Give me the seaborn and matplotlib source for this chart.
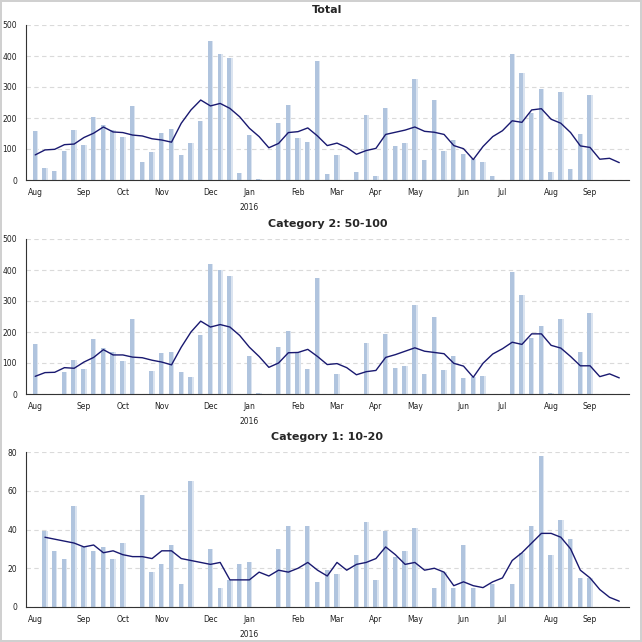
"""Weekly counts with rolling average, three panels"""
import matplotlib
matplotlib.use('Agg')
import matplotlib.pyplot as plt
from matplotlib.ticker import MultipleLocator
import numpy as np
import pandas as pd
import seaborn as sns

# weekly buckets, starting Sunday 2015-08-02
week_start = '2015-08-02'
n_weeks = 61

total_counts = [158, 39, 29, 95, 161, 113, 203, 177, 161, 139,
                239, 58, 89, 152, 165, 82, 118, 190, 448, 408,
                395, 22, 145, 3, 0, 183, 243, 137, 123, 384,
                19, 81, 0, 26, 210, 13, 232, 110, 119, 326,
                65, 258, 95, 129, 84, 67, 58, 12, 0, 405,
                345, 216, 295, 26, 285, 35, 150, 274, 0, 0, 0]
total_avg = [81, 97, 99, 114, 116, 137, 151, 171, 155, 153,
             145, 142, 133, 129, 122, 183, 226, 258, 239, 247,
             231, 204, 167, 140, 104, 118, 153, 156, 168, 142,
             111, 119, 105, 83, 95, 102, 147, 154, 161, 171,
             157, 154, 147, 111, 101, 66, 108, 140, 159, 191,
             186, 226, 230, 196, 183, 153, 110, 105, 67, 70, 56]

cat2_counts = [160, 0, 0, 70, 110, 82, 176, 148, 137, 106,
               241, 0, 73, 132, 135, 71, 54, 190, 420, 401,
               382, 0, 121, 3, 0, 153, 202, 137, 80, 374,
               0, 66, 0, 0, 166, 0, 194, 84, 91, 286,
               66, 247, 78, 121, 53, 55, 59, 0, 0, 394,
               319, 180, 218, 3, 241, 0, 136, 260, 0, 0, 0]
cat2_avg = [57, 69, 70, 85, 83, 103, 118, 143, 126, 126,
            119, 117, 109, 103, 94, 151, 200, 235, 216, 224,
            216, 189, 151, 121, 86, 100, 133, 134, 144, 121,
            95, 98, 85, 62, 72, 76, 118, 127, 138, 149,
            138, 134, 130, 99, 90, 54, 99, 129, 146, 167,
            160, 194, 194, 157, 148, 121, 91, 91, 56, 65, 52]

cat1_counts = [0, 39, 29, 25, 52, 31, 29, 31, 25, 33,
               0, 58, 18, 22, 32, 12, 65, 0, 30, 10,
               14, 22, 23, 0, 0, 30, 42, 0, 42, 13,
               19, 17, 0, 27, 44, 14, 39, 26, 29, 41,
               0, 10, 18, 10, 32, 10, 0, 12, 0, 12,
               28, 42, 78, 27, 45, 35, 15, 15, 0, 0, 0]
cat1_avg = [np.nan, 36, 35, 34, 33, 31, 32, 28, 29, 27,
            26, 26, 25, 29, 29, 25, 24, 23, 22, 23,
            14, 14, 14, 18, 16, 19, 18, 20, 23, 19,
            16, 23, 19, 22, 23, 25, 31, 27, 22, 23,
            19, 20, 18, 11, 13, 11, 10, 13, 15, 24,
            28, 33, 38, 38, 36, 30, 19, 15, 9, 5, 3]

panels = [('Total', total_counts, total_avg, 500, 100, 50),
          ('Category 2: 50-100', cat2_counts, cat2_avg, 500, 100, 50),
          ('Category 1: 10-20', cat1_counts, cat1_avg, 80, 20, 10)]

bar_color = '#b0c4de'
bar_light = '#dbe4f0'
line_color = '#191970'

sns.set_style('white')
plt.rcParams['font.family'] = ['DejaVu Sans']

dates = pd.date_range(week_start, periods=n_weeks, freq='7D')
weeks = np.arange(n_weeks)

# month label at the first week of each month, year under January
tick_pos, tick_lab = [], []
for i, d in enumerate(dates):
    if i == 0 or d.month != dates[i - 1].month:
        tick_pos.append(i)
        lab = d.strftime('%b')
        if d.month == 1:
            lab += '\n' + str(d.year)
        tick_lab.append(lab)

fig = plt.figure(figsize=(6.42, 6.42), dpi=100)
fig.patch.set_edgecolor('#d0d0d0')
fig.patch.set_linewidth(1.5)

left, width = 25.5 / 642, (629 - 25.5) / 642
tops = [25, 239, 452]
h_px = 155

for (title, counts, avg, ymax, major, minor), top in zip(panels, tops):
    ax = fig.add_axes([left, 1 - (top + h_px) / 642, width, h_px / 642])
    df = pd.DataFrame({'week': weeks, 'count': counts, 'avg': avg})
    # darker bar sits on the left part of a lighter, slightly wider one
    df['week_dark'] = df['week'] - 0.07

    sns.barplot(data=df, x='week', y='count', native_scale=True,
                width=0.55, color=bar_light, saturation=1, linewidth=0,
                ax=ax, zorder=2)
    sns.barplot(data=df, x='week_dark', y='count', native_scale=True,
                width=0.41, color=bar_color, saturation=1, linewidth=0,
                ax=ax, zorder=2)
    sns.lineplot(data=df, x='week', y='avg', color=line_color,
                 linewidth=1.0, ax=ax, zorder=3)

    ax.set_xlim(-1, n_weeks)
    ax.set_ylim(0, ymax)
    ax.set_title(title, fontsize=8, fontweight='bold', pad=8.5)
    ax.set(xlabel='', ylabel='')

    for s in ['top', 'right']:
        ax.spines[s].set_visible(False)
    for s in ['left', 'bottom']:
        ax.spines[s].set_color('#333333')
        ax.spines[s].set_linewidth(0.8)

    ax.yaxis.set_major_locator(MultipleLocator(major))
    ax.yaxis.set_minor_locator(MultipleLocator(minor))
    ax.grid(axis='y', which='major', linestyle=(0, (4, 3)),
            color='#dadada', linewidth=0.8, zorder=0)
    ax.set_axisbelow(True)

    ax.set_xticks(weeks, minor=True)
    ax.set_xticks(tick_pos)
    ax.set_xticklabels(tick_lab, linespacing=1.75)
    ax.tick_params(axis='x', which='both', length=2, width=0.8,
                   colors='#333333', labelsize=5.5, pad=4)
    ax.tick_params(axis='y', which='major', length=3, width=0.6,
                   colors='#333333', labelsize=5.5, pad=3)
    ax.tick_params(axis='y', which='minor', length=2, width=0.6,
                   colors='#333333')
    for lab in ax.get_xticklabels() + ax.get_yticklabels():
        lab.set_color('#222222')

fig.savefig('out.png', dpi=100)
